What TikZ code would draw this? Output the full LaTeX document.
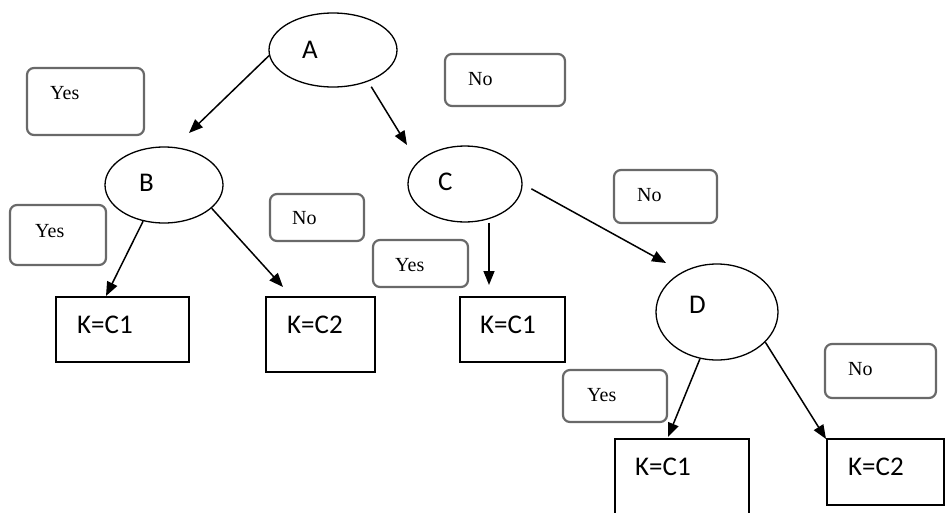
\documentclass[tikz,border=0pt]{standalone}
\usepackage{fontspec}
\setmainfont{Liberation Serif}
\newfontfamily\calfont{Carlito}
\usetikzlibrary{shapes.geometric,arrows.meta}
\definecolor{lboxgray}{RGB}{105,105,105}
\begin{document}
\begin{tikzpicture}[x=1pt,y=-1pt,
  ell/.style={draw=black, line width=1.3pt, ellipse, inner sep=0pt},
  kbox/.style={draw=black, line width=1.6pt, rectangle, inner sep=0pt},
  lbox/.style={draw=lboxgray, line width=2.2pt, rounded corners=7pt, rectangle, inner sep=0pt},
  ktxt/.style={inner sep=0pt, anchor=base west, font=\calfont\fontsize{27}{30}\selectfont},
  ltxt/.style={inner sep=0pt, anchor=base west, font=\fontsize{20}{24}\selectfont},
  arr/.style={draw=black, line width=1.5pt, -{Triangle[length=14pt,width=11pt]}}
]
\useasboundingbox (0,0) rectangle (946,512);

% decision ellipses
\node[ell, minimum width=128pt, minimum height=74pt] (A) at (333,50) {};
\node[ell, minimum width=118pt, minimum height=76pt] (B) at (164,185) {};
\node[ell, minimum width=114pt, minimum height=76pt] (C) at (465,184) {};
\node[ell, minimum width=122pt, minimum height=96pt] (D) at (717,312) {};
\node[ktxt] (tA) at (302,58) {A};
\node[ktxt] (tB) at (139,191) {B};
\node[ktxt] (tC) at (438,190) {C};
\node[ktxt] (tD) at (689,313) {D};

% label boxes
\node[lbox, minimum width=117pt, minimum height=67pt] (Y1) at (85.5,101.5) {};
\node[lbox, minimum width=120pt, minimum height=52pt] (N1) at (505,80) {};
\node[lbox, minimum width=96pt,  minimum height=60pt] (Y2) at (58,235) {};
\node[lbox, minimum width=94pt,  minimum height=47pt] (N2) at (317,217.5) {};
\node[lbox, minimum width=95pt,  minimum height=47pt] (Y3) at (420.5,263.5) {};
\node[lbox, minimum width=103pt, minimum height=53pt] (N3) at (665.5,196.5) {};
\node[lbox, minimum width=104pt, minimum height=52pt] (Y4) at (615,396) {};
\node[lbox, minimum width=111pt, minimum height=54pt] (N4) at (880.5,371) {};
\node[ltxt] (tY1) at (50,99) {Yes};
\node[ltxt] (tN1) at (468,85) {No};
\node[ltxt] (tY2) at (35,237) {Yes};
\node[ltxt] (tN2) at (292,224) {No};
\node[ltxt] (tY3) at (395,271) {Yes};
\node[ltxt] (tN3) at (637,201) {No};
\node[ltxt] (tY4) at (587,401) {Yes};
\node[ltxt] (tN4) at (848,375) {No};

% result boxes
\node[kbox, minimum width=133pt, minimum height=65pt] (K1) at (122.5,329.5) {};
\node[kbox, minimum width=109pt, minimum height=75pt] (K2) at (320.5,334.5) {};
\node[kbox, minimum width=105pt, minimum height=65pt] (K3) at (512.5,329.5) {};
\node[kbox, minimum width=134pt, minimum height=91pt] (K4) at (682,484.5) {};
\node[kbox, minimum width=117pt, minimum height=66pt] (K5) at (885.5,472) {};
\node[ktxt] (tK1) at (77,333) {K=C1};
\node[ktxt] (tK2) at (287,333) {K=C2};
\node[ktxt] (tK3) at (480,333) {K=C1};
\node[ktxt] (tK4) at (635,475) {K=C1};
\node[ktxt] (tK5) at (848,475) {K=C2};

% arrow ends
\coordinate (eAB) at (189,133);
\coordinate (eAC) at (407,145);
\coordinate (eBK1) at (106,296);
\coordinate (eBK2) at (283,287);
\coordinate (eCK3) at (489,285);
\coordinate (eCD) at (666,263);
\coordinate (eDK4) at (668,437);
\coordinate (eDK5) at (826,439);

% connectors
\draw[arr] (A.185) -- (eAB);
\draw[arr, shorten <=6pt] (A.318) -- (eAC);
\draw[arr] (B.240) -- (eBK1);
\draw[arr] (B.334) -- (eBK2);
\draw[arr] (C.south -| eCK3) -- (eCK3);
\draw[arr, shorten <=10pt] (C.east) -- (eCD);
\draw[arr] (D.250) -- (eDK4);
\draw[arr] (D.328) -- (eDK5);
\end{tikzpicture}
\end{document}
